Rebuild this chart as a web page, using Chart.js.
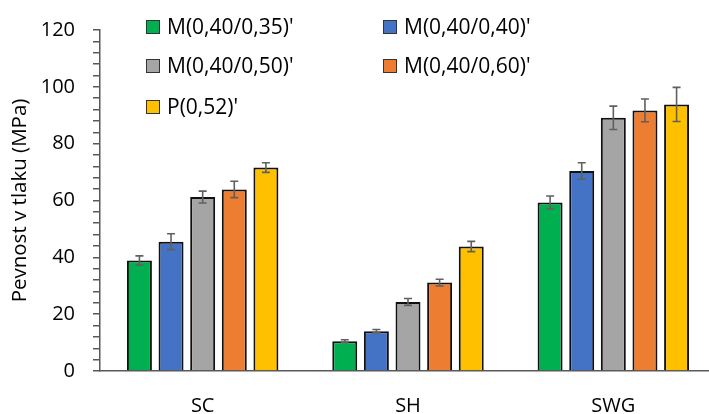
<!DOCTYPE html>
<html lang="cs">
<head>
  <meta charset="UTF-8">
  <title>Pevnost v tlaku</title>
  <script src="https://cdn.jsdelivr.net/npm/chart.js@4.4.1/dist/chart.umd.min.js"></script>
  <style>
    body { margin: 0; padding: 0; overflow: hidden; background: #fff; }
    #wrap { width: 709px; height: 414px; overflow: hidden; }
  </style>
</head>
<body>
  <div id="wrap">
    <canvas id="chart" width="716" height="414"></canvas>
  </div>

  <script>
    // data
    const categories = ["SC", "SH", "SWG"];
    const seriesNames = ["M(0,40/0,35)'", "M(0,40/0,40)'", "M(0,40/0,50)'", "M(0,40/0,60)'", "P(0,52)'"];
    const seriesColors = ["#00B050", "#4472C4", "#A5A5A5", "#ED7D31", "#FFC000"];

    const m035 = [38.9, 10.5, 59.3];
    const m040 = [45.5, 14.0, 70.4];
    const m050 = [61.2, 24.3, 89.1];
    const m060 = [63.9, 31.1, 91.7];
    const p052 = [71.6, 43.8, 93.8];

    const m035Err = [1.6, 0.5, 2.3];
    const m040Err = [2.8, 0.6, 2.9];
    const m050Err = [2.1, 1.2, 4.1];
    const m060Err = [2.9, 1.2, 4.0];
    const p052Err = [1.7, 1.8, 6.0];

    const yTicks = [0, 20, 40, 60, 80, 100, 120];

    const values = [m035, m040, m050, m060, p052];
    const errors = [m035Err, m040Err, m050Err, m060Err, p052Err];

    const FONT = "'Open Sans', sans-serif";
    const axisColor = "#595959";

    // error bars drawn through the scales
    const errorBars = {
      id: "errorBars",
      afterDatasetsDraw(chart) {
        const ctx = chart.ctx;
        const y = chart.scales.y;
        ctx.save();
        ctx.strokeStyle = "#606060";
        ctx.lineWidth = 1.6;
        chart.data.datasets.forEach((ds, i) => {
          const meta = chart.getDatasetMeta(i);
          meta.data.forEach((bar, j) => {
            const v = ds.data[j], e = errors[i][j];
            const top = y.getPixelForValue(v + e);
            const bot = y.getPixelForValue(v - e);
            ctx.beginPath();
            ctx.moveTo(bar.x, top); ctx.lineTo(bar.x, bot);
            ctx.moveTo(bar.x - 4, top); ctx.lineTo(bar.x + 4, top);
            ctx.moveTo(bar.x - 4, bot); ctx.lineTo(bar.x + 4, bot);
            ctx.stroke();
          });
        });
        ctx.restore();
      }
    };

    // legend in two columns inside the plot
    const insideLegend = {
      id: "insideLegend",
      afterDraw(chart) {
        const ctx = chart.ctx;
        const cols = [146, 383];
        const rows = [27, 66, 107];
        ctx.save();
        ctx.font = "21px " + FONT;
        ctx.textBaseline = "middle";
        chart.data.datasets.forEach((ds, i) => {
          const x = cols[i % 2], yc = rows[Math.floor(i / 2)];
          ctx.fillStyle = ds.backgroundColor;
          ctx.fillRect(x, yc - 7, 14, 14);
          ctx.strokeStyle = "#333";
          ctx.lineWidth = 1;
          ctx.strokeRect(x + 0.5, yc - 6.5, 13, 13);
          ctx.fillStyle = "#000";
          ctx.fillText(ds.label, x + 21, yc + 1);
        });
        ctx.restore();
      }
    };

    new Chart(document.getElementById("chart"), {
      type: "bar",
      data: {
        labels: categories,
        datasets: seriesNames.map((name, i) => ({
          label: name,
          data: values[i],
          backgroundColor: seriesColors[i],
          borderColor: "#111",
          borderWidth: 2,
          categoryPercentage: 0.77,
          barPercentage: 0.79
        }))
      },
      options: {
        responsive: false,
        animation: false,
        layout: { padding: { top: 28, right: 0, left: 0, bottom: 0 } },
        plugins: {
          legend: { display: false },
          tooltip: { enabled: false }
        },
        scales: {
          x: {
            grid: { display: false },
            border: { color: axisColor, width: 1.5 },
            ticks: { color: "#000", font: { family: FONT, size: 20 }, padding: 15 },
            afterFit: s => { s.height = 43; }
          },
          y: {
            min: 0,
            max: 120,
            afterBuildTicks: s => {
              const t = [];
              for (let v = 0; v <= 120; v += 4) t.push({ value: v });
              s.ticks = t;
            },
            grid: { drawOnChartArea: false, drawTicks: true, tickLength: 7, color: axisColor, lineWidth: 1.5 },
            border: { color: axisColor, width: 1.5 },
            ticks: {
              color: "#000",
              font: { family: FONT, size: 20 },
              padding: 18,
              autoSkip: false,
              callback: v => yTicks.includes(v) ? String(v) : ""
            },
            title: {
              display: true,
              text: "Pevnost v tlaku (MPa)",
              color: "#000",
              font: { family: FONT, size: 20.5 },
              padding: { top: 8, bottom: 2 }
            },
            afterFit: s => { s.width = 100; }
          }
        }
      },
      plugins: [errorBars, insideLegend]
    });
  </script>
</body>
</html>
